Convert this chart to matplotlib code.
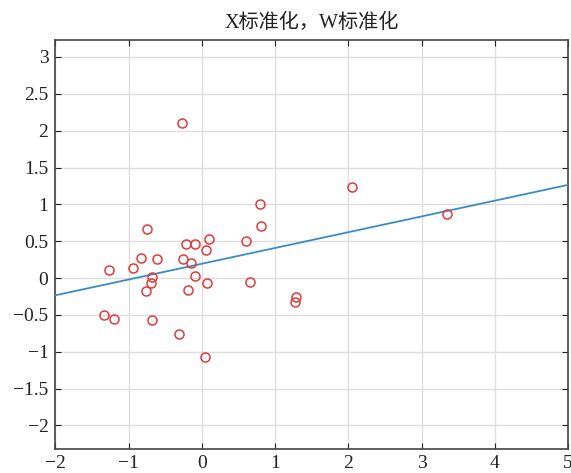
import matplotlib
matplotlib.use("Agg")
import matplotlib.pyplot as plt
import numpy as np

# data (standardised X vs W)
x_vals = [-0.275, 0.80, 0.805, -0.753, -0.22, -0.10, 0.094, 0.06, 0.60,
          -0.83, -0.61, -0.253, -0.144, -1.268, -0.944, -0.68, -0.70,
          -0.089, 0.075, 0.66, -0.766, -0.184, -1.336, -1.20, -0.68,
          -0.316, 0.04, 1.287, 1.273, 2.056, 3.35]
y_vals = [2.098, 1.01, 0.70, 0.66, 0.465, 0.465, 0.533, 0.384, 0.50,
          0.275, 0.256, 0.256, 0.207, 0.11, 0.143, 0.016, -0.07,
          0.03, -0.07, -0.05, -0.18, -0.166, -0.50, -0.555, -0.57,
          -0.765, -1.07, -0.26, -0.32, 1.24, 0.87]
fit_coef = [0.194, 0.214]   # intercept, slope

xlim = (-2, 5)
ylim = (-2.32, 3.23)
xticks = list(range(-2, 6))
yticks = [-2, -1.5, -1, -0.5, 0, 0.5, 1, 1.5, 2, 2.5, 3]

serif = ['Liberation Serif', 'Noto Sans CJK SC']
plt.rcParams['font.family'] = serif
plt.rcParams['axes.unicode_minus'] = True

fig = plt.figure(figsize=(5.71, 4.73), dpi=100)
ax = fig.add_axes([0.097, 0.0507, 0.8977, 0.8647])

xs = np.linspace(xlim[0], xlim[1], 50)
ax.plot(xs, fit_coef[0] + fit_coef[1] * xs, color='#3a8cc6', lw=1.3, zorder=3)
ax.plot(x_vals, y_vals, 'o', mfc='none', mec='#e23a3a', ms=6.5, mew=1.1, zorder=4)

ax.set_xlim(*xlim)
ax.set_ylim(*ylim)
ax.set_xticks(xticks)
ax.set_yticks(yticks)
ax.set_yticklabels([f"{t:g}".replace('-', '\u2212') for t in yticks])
ax.grid(True, color='#dedede', lw=1)
ax.set_axisbelow(True)
ax.tick_params(direction='in', top=True, right=True, length=4, width=0.8,
               labelsize=14, colors='#222222')
ax.tick_params(axis='y', pad=5)
ax.tick_params(axis='x', pad=4)
for s in ax.spines.values():
    s.set_color('#444444')
    s.set_linewidth(1.2)

ax.set_title('X标准化，W标准化', fontsize=14.5, pad=9, color='#222222')

fig.savefig('out.png', dpi=100)
